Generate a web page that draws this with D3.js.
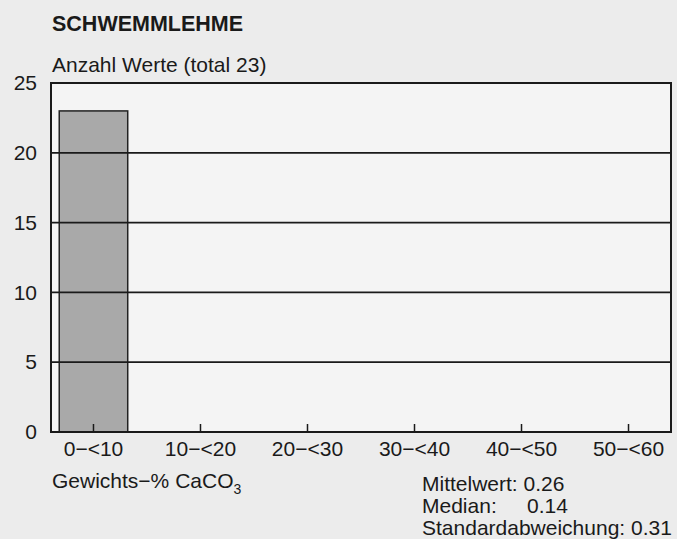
<!DOCTYPE html>
<html>
<head>
<meta charset="utf-8">
<script src="https://cdn.jsdelivr.net/npm/d3@7"></script>
<style>
  body { margin: 0; background: #ececec; }
  text { font-family: "Liberation Sans", Arial, sans-serif; fill: #1a1a1a; }
</style>
</head>
<body>
<div id="chart"></div>
<script>
// data
var categories = ["0\u2212<10", "10\u2212<20", "20\u2212<30", "30\u2212<40", "40\u2212<50", "50\u2212<60"];
var counts = [23, 0, 0, 0, 0, 0];
var yTicks = [0, 5, 10, 15, 20, 25];
var statLabels = ["Mittelwert:", "Median:", "Standardabweichung:"];
var statValues = ["0.26", "0.14", "0.31"];

var W = 677, H = 539;
var margin = {top: 83, right: 6, bottom: 107, left: 51},
    width = W - margin.left - margin.right,
    height = H - margin.top - margin.bottom;
var fs = "21px";

var svg = d3.select("#chart")
  .append("svg")
    .attr("width", W)
    .attr("height", H);

svg.append("rect")
  .attr("width", W).attr("height", H)
  .attr("fill", "#ececec");

var g = svg.append("g")
    .attr("transform", "translate(" + margin.left + "," + margin.top + ")");

// title
svg.append("text")
  .attr("x", 52).attr("y", 31)
  .style("font-size", "21.5px")
  .style("font-weight", "bold")
  .text("SCHWEMMLEHME");

svg.append("text")
  .attr("x", 52).attr("y", 72)
  .style("font-size", fs)
  .text("Anzahl Werte (total 23)");

var x = d3.scaleBand()
  .range([0, width])
  .domain(categories)
  .paddingInner(0.36)
  .paddingOuter(0.077);

var y = d3.scaleLinear()
  .domain([0, 25])
  .range([height, 0]);

// plot background
g.append("rect")
  .attr("width", width).attr("height", height)
  .attr("fill", "#f4f4f4");

// bars
g.selectAll(".bar")
  .data(categories.map(function(c, i) { return {cat: c, n: counts[i]}; })
    .filter(function(d) { return d.n > 0; }))
  .enter()
  .append("rect")
    .attr("class", "bar")
    .attr("x", function(d) { return x(d.cat); })
    .attr("y", function(d) { return y(d.n); })
    .attr("width", x.bandwidth())
    .attr("height", function(d) { return height - y(d.n); })
    .attr("fill", "#a9a9a9")
    .attr("stroke", "#222")
    .attr("stroke-width", 1.5);

// horizontal grid lines
g.selectAll(".grid")
  .data(yTicks.filter(function(d) { return d > 0 && d < 25; }))
  .enter()
  .append("line")
    .attr("x1", 0).attr("x2", width)
    .attr("y1", function(d) { return y(d); })
    .attr("y2", function(d) { return y(d); })
    .attr("stroke", "#1a1a1a")
    .attr("stroke-width", 1.8);

// frame
g.append("rect")
  .attr("width", width).attr("height", height)
  .attr("fill", "none")
  .attr("stroke", "#1a1a1a")
  .attr("stroke-width", 2);

// y axis labels
var yAxis = g.append("g")
  .call(d3.axisLeft(y).tickValues(yTicks).tickSize(0).tickPadding(14));
yAxis.select(".domain").remove();
yAxis.selectAll("text")
  .style("font-size", fs)
  .attr("fill", "#1a1a1a");

// x axis: inward ticks, labels below
var xAxis = g.append("g")
  .attr("transform", "translate(0," + height + ")")
  .call(d3.axisBottom(x).tickSize(-8).tickPadding(9));
xAxis.select(".domain").remove();
xAxis.selectAll("line")
  .attr("stroke", "#1a1a1a")
  .attr("stroke-width", 1.5);
xAxis.selectAll("text")
  .style("font-size", fs)
  .attr("fill", "#1a1a1a");

// x axis title
var xt = svg.append("text")
  .attr("x", 52).attr("y", 488)
  .style("font-size", fs);
xt.append("tspan").text("Gewichts\u2212% CaCO");
xt.append("tspan").attr("dy", 6).style("font-size", "14px").text("3");

// stats block
var stats = svg.append("g");
statLabels.forEach(function(lab, i) {
  var t = stats.append("text")
    .attr("x", 422).attr("y", 491 + i * 22)
    .style("font-size", fs);
  if (i === 1) {
    t.text(lab);
    stats.append("text")
      .attr("x", 527).attr("y", 491 + i * 22)
      .style("font-size", fs)
      .text(statValues[i]);
  } else {
    t.text(lab + " " + statValues[i]);
  }
});
</script>
</body>
</html>
